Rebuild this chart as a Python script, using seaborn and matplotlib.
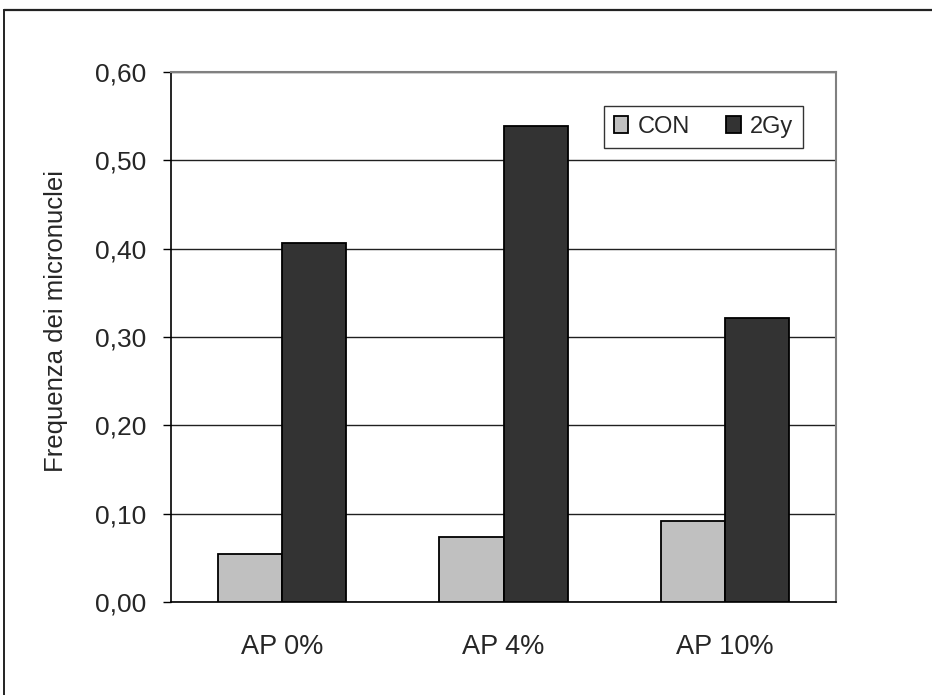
import matplotlib
matplotlib.use("Agg")
import matplotlib.pyplot as plt
from matplotlib.lines import Line2D
from matplotlib.ticker import FuncFormatter
import seaborn as sns
import pandas as pd

categories = ["AP 0%", "AP 4%", "AP 10%"]
series = ["CON", "2Gy"]
con_values = [0.054, 0.074, 0.092]
gy_values = [0.406, 0.539, 0.321]
y_ticks = [0.0, 0.1, 0.2, 0.3, 0.4, 0.5, 0.6]

df = pd.DataFrame({
    "gruppo": categories * 2,
    "trattamento": [series[0]] * 3 + [series[1]] * 3,
    "frequenza": con_values + gy_values,
})

sns.set_style("white")
plt.rcParams["font.family"] = ["Liberation Sans", "DejaVu Sans"]

W, H = 932, 695
fig = plt.figure(figsize=(W / 100, H / 100), dpi=100)
ax = fig.add_axes([171 / W, (H - 602) / H, (836 - 171) / W, (602 - 72) / H])

sns.barplot(data=df, x="gruppo", y="frequenza", hue="trattamento",
            order=categories, hue_order=series,
            palette={"CON": "#c0c0c0", "2Gy": "#333333"},
            width=0.58, edgecolor="black", linewidth=1.3,
            saturation=1, ax=ax, zorder=3)

ax.set_ylim(0, 0.6)
ax.set_xlim(-0.5, 2.5)
ax.set_yticks(y_ticks)
ax.yaxis.set_major_formatter(FuncFormatter(lambda v, p: f"{v:.2f}".replace(".", ",")))
ax.grid(axis="y", color="#202020", linewidth=1.0, zorder=0)
ax.set_axisbelow(True)

# category separators on the x axis
ax.set_xticks([0, 1, 2])
ax.set_xticks([-0.5, 0.5, 1.5, 2.5], minor=True)
ax.tick_params(axis="x", which="major", length=0, pad=23, labelsize=19.5)
ax.tick_params(axis="x", which="minor", length=6.5, width=1.0, color="black", direction="out")
ax.tick_params(axis="y", length=5.8, width=1.0, color="black", direction="out",
               pad=12, labelsize=19, left=True)

ax.set_xlabel("")
ax.set_ylabel("Frequenza dei micronuclei", fontsize=18.5, va="center")
ax.yaxis.set_label_coords((56 - 171) / (836 - 171), (602 - 321) / 530)

for side in ("left", "bottom"):
    ax.spines[side].set_color("black")
    ax.spines[side].set_linewidth(1.2)
for side in ("top", "right"):
    ax.spines[side].set_visible(True)
    ax.spines[side].set_color("#808080")
    ax.spines[side].set_linewidth(1.5)

leg = ax.legend(loc="upper left", bbox_to_anchor=((604 - 171) / (836 - 171), (602 - 106) / 530),
                ncol=2, frameon=True, fontsize=17, handlelength=0.6, handleheight=0.72,
                handletextpad=0.4, columnspacing=1.55, borderpad=0.42, fancybox=False,
                borderaxespad=0)
leg.get_frame().set_edgecolor("black")
leg.get_frame().set_linewidth(1.0)

# outer frame of the figure (top and left edges)
fig.add_artist(Line2D([4 / W, 4 / W], [0, (H - 10) / H], color="#222222", linewidth=1.4,
                      transform=fig.transFigure))
fig.add_artist(Line2D([4 / W, 1], [(H - 10) / H, (H - 10) / H], color="#222222", linewidth=1.6,
                      transform=fig.transFigure))

fig.savefig("out.png", dpi=100)
